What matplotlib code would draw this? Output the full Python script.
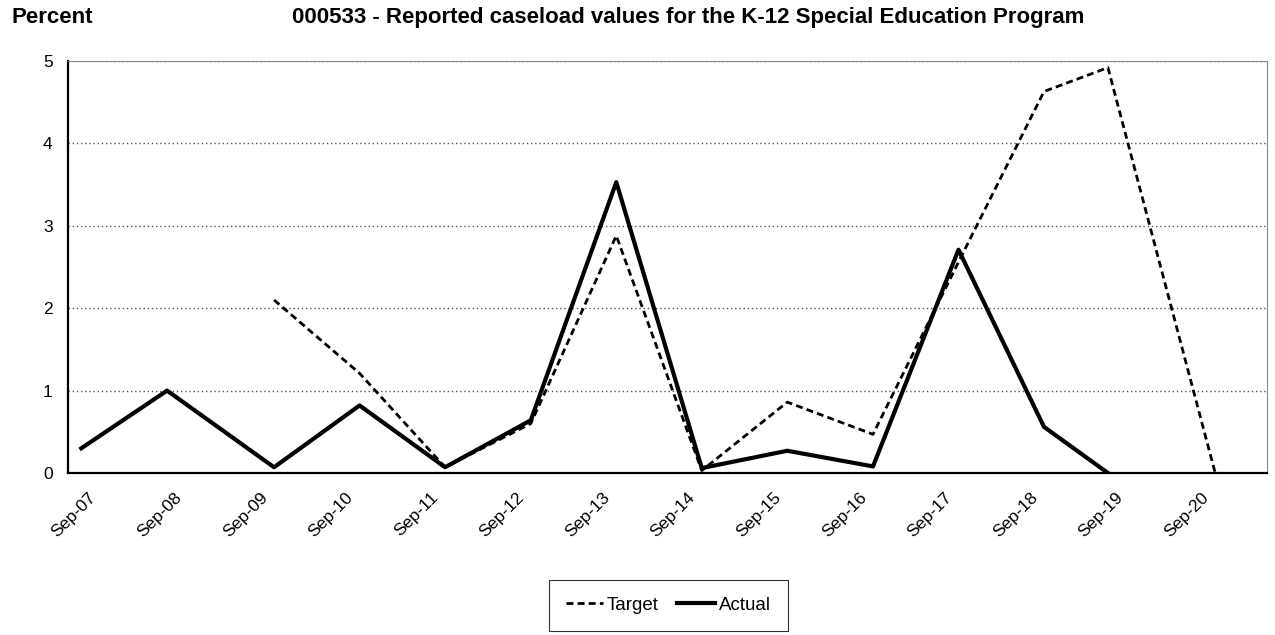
import pandas as pd
import numpy as np
import matplotlib.pyplot as plt
import matplotlib.dates as mdates

plt.rcParams['font.family'] = ['Liberation Sans', 'DejaVu Sans']

# data
dates = ['2007-08-01', '2008-08-01', '2009-11-01', '2010-11-01', '2011-11-01',
         '2012-11-01', '2013-11-01', '2014-11-01', '2015-11-01', '2016-11-01',
         '2017-11-01', '2018-11-01', '2019-08-01', '2020-11-01']
target = [np.nan, np.nan, 2.10, 1.21, 0.07, 0.60, 2.88, 0.03, 0.86, 0.47,
          2.56, 4.63, 4.92, 0.00]
actual = [0.30, 1.00, 0.07, 0.82, 0.07, 0.64, 3.53, 0.06, 0.27, 0.08,
          2.71, 0.56, 0.00, np.nan]
tick_years = list(range(2007, 2021))

x = pd.to_datetime(dates)

fig = plt.figure(figsize=(12.75, 6.35), dpi=100)
ax = fig.add_axes([0.0533, 0.2551, 0.9404, 0.6488])

ax.plot(x, target, color='black', lw=2, ls=(0, (2.5, 1.5)), label='Target')
ax.plot(x, actual, color='black', lw=3, label='Actual')

ax.set_ylim(0, 5)
ax.set_yticks([0, 1, 2, 3, 4, 5])
ax.set_xlim(pd.Timestamp('2007-06-05'), pd.Timestamp('2021-06-10'))
ax.set_xticks([pd.Timestamp(f'{y}-09-01') for y in tick_years])
ax.xaxis.set_major_formatter(mdates.DateFormatter('%b-%y'))
ax.yaxis.grid(True, color='#555555', ls=(0, (1, 2)), lw=1)

plt.setp(ax.get_xticklabels(), rotation=45, ha='right', rotation_mode='anchor')
ax.tick_params(axis='x', length=0, pad=12, labelsize=12.5)
ax.tick_params(axis='y', length=0, pad=11, labelsize=12.5)

for side in ['left', 'bottom']:
    ax.spines[side].set_linewidth(1.6)
    ax.spines[side].set_color('black')
for side in ['top', 'right']:
    ax.spines[side].set_linewidth(0.8)
    ax.spines[side].set_color('#888888')

fig.text(0.009, 0.972, 'Percent', fontsize=16, fontweight='bold', va='center')
fig.text(0.540, 0.972, '000533 - Reported caseload values for the K-12 Special Education Program',
         fontsize=16, fontweight='bold', va='center', ha='center')

leg = fig.legend(loc='center', bbox_to_anchor=(0.524, 0.047), ncol=2, fancybox=False,
                 edgecolor='black', fontsize=13.5, handlelength=2.0, columnspacing=1.0,
                 borderpad=0.9, handletextpad=0.2)
leg.get_frame().set_linewidth(0.8)

fig.savefig('out.png', dpi=100)
